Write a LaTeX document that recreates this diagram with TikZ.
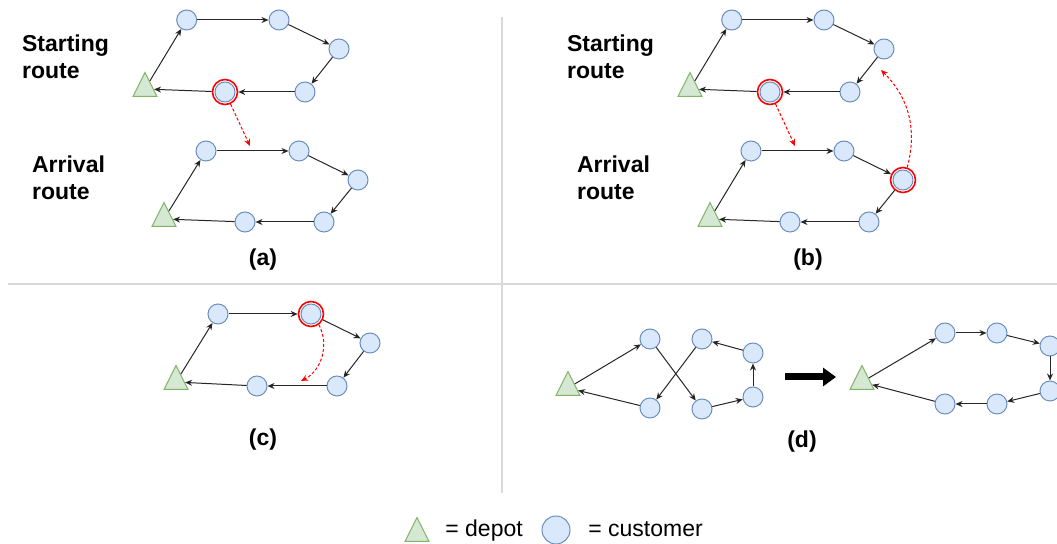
\documentclass[tikz,border=0pt]{standalone}
\usepackage{fontspec}
\setmainfont{Liberation Sans}
\usetikzlibrary{arrows.meta,shapes.geometric}

\definecolor{custfill}{HTML}{DAE8FC}
\definecolor{custline}{HTML}{6C8EBF}
\definecolor{depotfill}{HTML}{D5E8D4}
\definecolor{depotline}{HTML}{82B366}

\begin{document}
\begin{tikzpicture}[x=0.5pt, y=-0.5pt, >={Stealth[length=3.5pt, width=3pt]}]
	\tikzstyle{customer} = [circle, minimum size=10pt, inner sep=0pt, draw=custline, fill=custfill, line width=0.5pt]
	\tikzstyle{depot}    = [isosceles triangle, shape border rotate=90, isosceles triangle stretches, minimum width=12pt, minimum height=12pt, inner sep=0pt, draw=depotline, fill=depotfill, line width=0.5pt]
	\tikzstyle{ring}     = [circle, minimum size=12.5pt, inner sep=0pt, draw=red, line width=0.8pt]
	\tikzstyle{route}    = [->, draw=black!85, line width=0.5pt]
	\tikzstyle{move}     = [->, draw=red, dash pattern=on 1.5pt off 1pt, line width=0.5pt]
	\tikzstyle{title}    = [font=\bfseries\fontsize{11.5}{13.5}\selectfont, align=left, anchor=north west, inner sep=0pt]
	\tikzstyle{caption}  = [font=\bfseries\fontsize{11.5}{13.5}\selectfont, inner sep=0pt]
	\tikzstyle{legend}   = [font=\fontsize{11.5}{13.5}\selectfont, anchor=base west, inner sep=0pt]
	\tikzstyle{divider}  = [draw=black!15, line width=0.75pt]

	\useasboundingbox (0,0) rectangle (1057,544);

	% panel borders
	\draw[divider] (502,17) -- (502,493);
	\draw[divider] (8,284) -- (1057,284);

	\foreach \name/\x/\y in {as0/145/89, aa0/164/219, bs0/690/89, ba0/710/219, c0/176/382, dl0/568/388, dr0/862/382, ld/417/534}
		\node[depot] (\name) at (\x, \y) {};

	\foreach \name/\x/\y in {as1/186.7/20, as2/279/20, as3/339/49, as4/305/92, as5/225/92,
			aa1/206/151, aa2/299/151, aa3/358/180, aa4/324/222, aa5/245/222,
			bs1/731.7/20, bs2/824/20, bs3/884/49, bs4/850/92, bs5/770/92,
			ba1/751/151, ba2/844/151, ba3/903/180, ba4/869/222, ba5/790/222,
			c1/218/314, c2/311/314, c3/370/343, c4/337/386, c5/257/386,
			dl1/650/339, dl2/702/409, dl3/753/397, dl4/753/353, dl5/702/339, dl6/650/408,
			dr1/945/333, dr2/997/333, dr3/1050/346, dr4/1050/391, dr5/997/404, dr6/945/404}
		\node[customer] (\name) at (\x, \y) {};

	\foreach \name/\at in {ar/as5, br1/bs5, br2/ba3, cr/c2}
		\node[ring] (\name) at (\at) {};

	\foreach \from/\to in {as0/as1, as1/as2, as2/as3, as3/as4, as4/ar, ar/as0,
			aa0/aa1, aa1/aa2, aa2/aa3, aa3/aa4, aa4/aa5, aa5/aa0,
			bs0/bs1, bs1/bs2, bs2/bs3, bs3/bs4, bs4/br1, br1/bs0,
			ba0/ba1, ba1/ba2, ba2/br2, br2/ba4, ba4/ba5, ba5/ba0,
			c0/c1, c1/cr, cr/c3, c3/c4, c4/c5, c5/c0,
			dl0/dl1, dl1/dl2, dl2/dl3, dl3/dl4, dl4/dl5, dl5/dl6, dl6/dl0,
			dr0/dr1, dr1/dr2, dr2/dr3, dr3/dr4, dr4/dr5, dr5/dr6, dr6/dr0}
		\path[route] (\from) edge (\to);

	% moved customers
	\coordinate (amv) at (250,146);
	\coordinate (bmv1) at (795,146);
	\coordinate (bmv2) at (881,70);
	\coordinate (cmv) at (301,381);
	\draw[move] (ar) -- (amv);
	\draw[move] (br1) -- (bmv1);
	\draw[move] (br2) to[bend right=30] (bmv2);
	\draw[move] (cr) to[bend left=45] (cmv);

	% 2-opt arrow
	\coordinate (bigs) at (785,377);
	\coordinate (bige) at (836,377);
	\draw[line width=3.5pt, -{Triangle[length=6.5pt, width=9pt]}] (bigs) -- (bige);

	\node[title] (ta) at (21.7,34.5) {Starting\\route};
	\node[title] (tb) at (31.7,155) {Arrival\\route};
	\node[title] (tc) at (566.7,34.5) {Starting\\route};
	\node[title] (td) at (576.7,155) {Arrival\\route};

	\node[caption] (la) at (263,260) {(a)};
	\node[caption] (lb) at (808,260) {(b)};
	\node[caption] (lc) at (263,440) {(c)};
	\node[caption] (lde) at (802,442) {(d)};

	% legend
	\node[customer, minimum size=14pt] (lcu) at (556,530) {};
	\node[legend] (ltd) at (445,536.7) {= depot};
	\node[legend] (ltc) at (588,536.7) {= customer};
\end{tikzpicture}
\end{document}
